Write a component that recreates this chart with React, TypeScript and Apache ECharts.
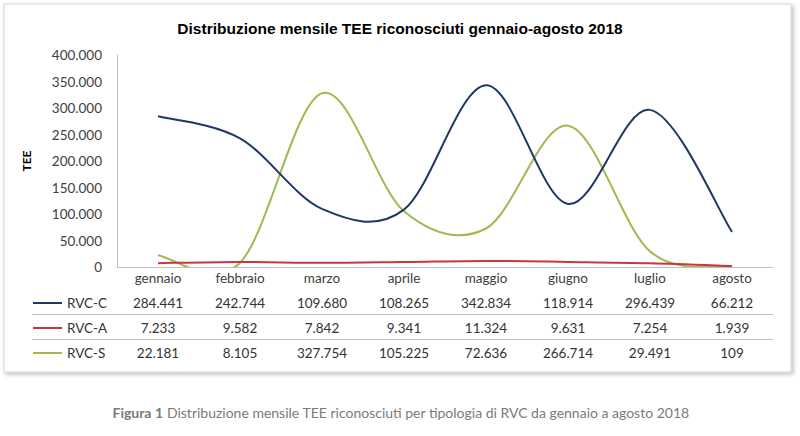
import React, { useEffect, useRef } from "react";
import * as echarts from "echarts";

const months = ["gennaio", "febbraio", "marzo", "aprile", "maggio", "giugno", "luglio", "agosto"];
const seriesNames = ["RVC-C", "RVC-A", "RVC-S"];
const rvcC = [284441, 242744, 109680, 108265, 342834, 118914, 296439, 66212];
const rvcA = [7233, 9582, 7842, 9341, 11324, 9631, 7254, 1939];
const rvcS = [22181, 8105, 327754, 105225, 72636, 266714, 29491, 109];
const yMax = 400000;
const yStep = 50000;
const titleText = "Distribuzione mensile TEE riconosciuti gennaio-agosto 2018";
const yName = "TEE";
const captionBold = "Figura 1";
const captionRest = " Distribuzione mensile TEE riconosciuti per tipologia di RVC da gennaio a agosto 2018";

const colors = ["#1f3864", "#c9373c", "#9fbb4f"];
const FONT = "Lato, 'Open Sans', sans-serif";

function fmt(n: number): string {
  return String(Math.round(n)).replace(/\B(?=(\d{3})+(?!\d))/g, ".");
}

// Excel-like smoothed line (Catmull-Rom through the data points, positioned by the axes)
function makeRenderItem(values: number[], color: string) {
  return (params: any, api: any) => {
    if (params.dataIndex !== 0) return null;
    const pts = values.map((v, i) => api.coord([i, v]));
    const n = pts.length;
    const children: any[] = [];
    for (let i = 0; i < n - 1; i++) {
      const p0 = pts[Math.max(0, i - 1)];
      const p1 = pts[i];
      const p2 = pts[i + 1];
      const p3 = pts[Math.min(n - 1, i + 2)];
      children.push({
        type: "bezierCurve",
        shape: {
          x1: p1[0],
          y1: p1[1],
          cpx1: p1[0] + (p2[0] - p0[0]) / 6,
          cpy1: p1[1] + (p2[1] - p0[1]) / 6,
          cpx2: p2[0] - (p3[0] - p1[0]) / 6,
          cpy2: p2[1] - (p3[1] - p1[1]) / 6,
          x2: p2[0],
          y2: p2[1],
        },
        style: { stroke: color, lineWidth: 2, fill: null },
      });
    }
    const cs = params.coordSys;
    return {
      type: "group",
      children,
      clipPath: { type: "rect", shape: { x: cs.x, y: cs.y - 1, width: cs.width, height: cs.height + 1 } },
    };
  };
}

export default function App() {
  const ref = useRef<HTMLDivElement>(null);
  useEffect(() => {
    document.body.style.margin = "0";
    const chart = echarts.init(ref.current!, undefined, { renderer: "svg" });
    const tableRows = [rvcC, rvcA, rvcS];
    const gridLeft = 117;
    const gridRight = 27;
    const gridTop = 55;
    const gridBottom = 169;
    const rowStep = 25;
    const baseY = 436 - gridBottom;
    const tableAxes = tableRows.map((row, k) => ({
      type: "category",
      data: months,
      position: "bottom",
      offset: rowStep * (k + 1),
      axisLine: { show: false },
      axisTick: { show: false },
      axisLabel: {
        interval: 0,
        margin: 4,
        fontFamily: FONT,
        fontSize: 13.5,
        color: "#333333",
        formatter: (_v: string, i: number) => fmt(row[i]),
      },
    }));
    const sepY = [baseY + 4 + rowStep * 1.5 + 6, baseY + 4 + rowStep * 2.5 + 6];
    const rowCenters = [303, 328, 353];
    chart.setOption({
      animation: false,
      backgroundColor: "#ffffff",
      title: {
        text: titleText,
        left: "center",
        top: 15,
        textStyle: {
          fontFamily: "'Liberation Sans', Arial, sans-serif",
          fontSize: 15.5,
          fontWeight: "bold",
          color: "#000000",
        },
      },
      grid: {
        left: gridLeft,
        right: gridRight,
        top: gridTop,
        bottom: gridBottom,
        containLabel: false,
        outerBoundsMode: "none",
      },
      legend: seriesNames.map((nm, i) => ({
        orient: "horizontal",
        left: 33,
        top: rowCenters[i] - 8,
        padding: 0,
        icon: "rect",
        itemWidth: 29,
        itemHeight: 2,
        itemGap: 0,
        data: [nm],
        selectedMode: false,
        textStyle: { fontFamily: FONT, fontSize: 13.5, lineHeight: 16, color: "#333333" },
      })),
      xAxis: [
        {
          type: "category",
          data: months,
          boundaryGap: true,
          axisLine: { show: true, lineStyle: { color: "#bfbfbf", width: 1 } },
          axisTick: { show: false },
          axisLabel: {
            interval: 0,
            margin: 4,
            fontFamily: FONT,
            fontSize: 13.5,
            color: "#404040",
          },
        },
        ...tableAxes,
      ],
      yAxis: {
        type: "value",
        min: 0,
        max: yMax,
        interval: yStep,
        name: yName,
        nameLocation: "middle",
        nameRotate: 90,
        nameGap: 85,
        nameTextStyle: { fontFamily: FONT, fontSize: 12, fontWeight: "bold", color: "#000000" },
        axisLine: { show: true, lineStyle: { color: "#bfbfbf", width: 1 } },
        axisTick: { show: false },
        splitLine: { show: false },
        axisLabel: {
          margin: 15,
          fontFamily: FONT,
          fontSize: 13.5,
          color: "#404040",
          formatter: (v: number) => fmt(v),
        },
      },
      series: [rvcC, rvcA, rvcS].map((d, i) => ({
        name: seriesNames[i],
        type: "custom",
        coordinateSystem: "cartesian2d",
        xAxisIndex: 0,
        yAxisIndex: 0,
        data: d.map((v, k) => [k, v]),
        encode: { x: 0, y: 1 },
        renderItem: makeRenderItem(d, colors[i]),
        itemStyle: { color: colors[i] },
        z: 3 - i,
        silent: true,
      })),
      graphic: [
        {
          type: "rect",
          z: -10,
          silent: true,
          shape: { x: 4, y: 4, width: 787, height: 368 },
          style: {
            fill: "#ffffff",
            stroke: "#d4d4d4",
            lineWidth: 1,
            shadowBlur: 4,
            shadowOffsetX: 2,
            shadowOffsetY: 2,
            shadowColor: "rgba(0,0,0,0.25)",
          },
        },
        ...sepY.map((y) => ({
          type: "line",
          silent: true,
          shape: { x1: 32, y1: y, x2: 800 - gridRight, y2: y },
          style: { stroke: "#bfbfbf", lineWidth: 1 },
        })),
        {
          type: "text",
          silent: true,
          x: 401,
          y: 412,
          style: {
            text: "{b|" + captionBold + "}" + captionRest,
            align: "center",
            verticalAlign: "middle",
            fontFamily: FONT,
            fontSize: 14,
            fill: "#7a7a7a",
            rich: {
              b: { fontFamily: FONT, fontSize: 14, fontWeight: "bold", fill: "#7a7a7a", color: "#7a7a7a" },
            },
          },
        },
      ],
    });
    return () => chart.dispose();
  }, []);
  return <div ref={ref} style={{ width: 800, height: 436 }} />;
}
